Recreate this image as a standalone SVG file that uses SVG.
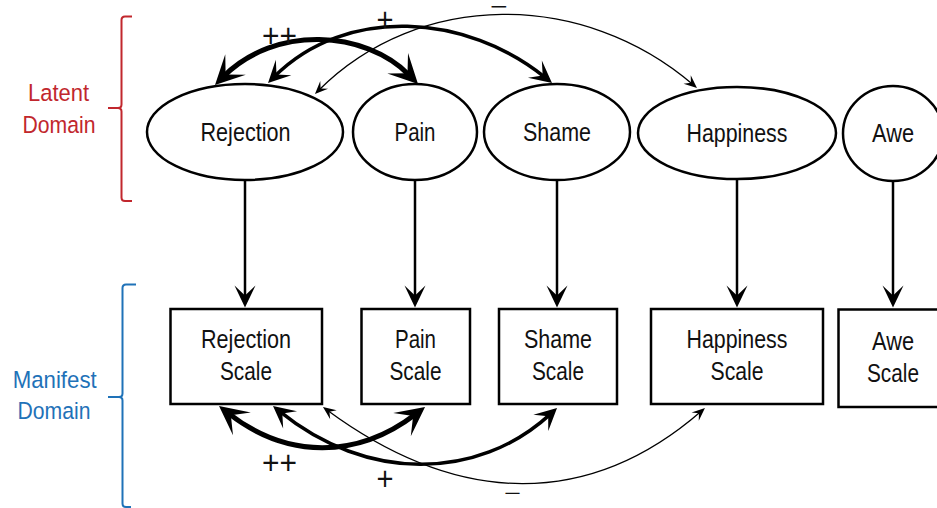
<svg xmlns="http://www.w3.org/2000/svg" width="937" height="508" viewBox="0 0 937 508">
<style>
.node{fill:#fff;stroke:#000;stroke-width:2.5}
.lbl{font-family:"Liberation Sans",Arial,sans-serif;font-size:25px;fill:#111;text-anchor:middle}
.dom{font-family:"Liberation Sans",Arial,sans-serif;font-size:24.5px;text-anchor:middle}
.sgn{font-family:"Liberation Sans",Arial,sans-serif;font-size:34px;fill:#111;text-anchor:middle}
.c{fill:none;stroke:#000}
.v{stroke-width:2.5;marker-end:url(#mv)}
.thick{stroke-width:5;marker-start:url(#mb);marker-end:url(#mb)}
.med{stroke-width:3.5;marker-start:url(#mm);marker-end:url(#mm)}
.thin{stroke-width:1.3;marker-start:url(#ms);marker-end:url(#ms)}
.br{fill:none;stroke-width:2}
</style>
<defs>
<marker id="mv" markerUnits="userSpaceOnUse" orient="auto" refX="-10" refY="0" overflow="visible"><path d="M0,0 L-22,-10.5 L-12,0 L-22,10.5 Z" fill="#000"/></marker>
<marker id="mb" markerUnits="userSpaceOnUse" orient="auto-start-reverse" refX="-12" refY="0" overflow="visible"><path d="M0,0 L-29,-14.5 L-15,0 L-29,14.5 Z" fill="#000"/></marker>
<marker id="mm" markerUnits="userSpaceOnUse" orient="auto-start-reverse" refX="-9" refY="0" overflow="visible"><path d="M0,0 L-22,-11 L-12,0 L-22,11 Z" fill="#000"/></marker>
<marker id="ms" markerUnits="userSpaceOnUse" orient="auto-start-reverse" refX="-5" refY="0" overflow="visible"><path d="M0,0 L-13,-5.5 L-8,0 L-13,5.5 Z" fill="#000"/></marker>
</defs>

<g id="domains">
<path class="br" stroke="#c1272d" d="M132,16.5 H125 Q121.5,16.5 121.5,20 V104.5 Q121.5,108 118,108 H108 M118,108 Q121.5,108 121.5,111.5 V197.5 Q121.5,201 125,201 H132"/>
<text class="dom" fill="#c1272d" x="58.5" y="100.7" textLength="61" lengthAdjust="spacingAndGlyphs">Latent</text>
<text class="dom" fill="#c1272d" x="59" y="132.7" textLength="73" lengthAdjust="spacingAndGlyphs">Domain</text>
<path class="br" stroke="#1f72b8" d="M136,284.5 H126 Q122.5,284.5 122.5,288 V393.5 Q122.5,397 119,397 H108 M119,397 Q122.5,397 122.5,400.5 V503.5 Q122.5,507 126,507 H131"/>
<text class="dom" fill="#1f72b8" x="54.7" y="387.7" textLength="84" lengthAdjust="spacingAndGlyphs">Manifest</text>
<text class="dom" fill="#1f72b8" x="54" y="419.3" textLength="73" lengthAdjust="spacingAndGlyphs">Domain</text>
</g>

<g id="rejection"><ellipse class="node" cx="245" cy="132" rx="98" ry="48"/><text class="lbl" x="245.5" y="141.3" textLength="90" lengthAdjust="spacingAndGlyphs">Rejection</text></g>
<g id="pain"><ellipse class="node" cx="415" cy="132" rx="62" ry="48"/><text class="lbl" x="415" y="141.3" textLength="41" lengthAdjust="spacingAndGlyphs">Pain</text></g>
<g id="shame"><ellipse class="node" cx="557" cy="132" rx="73" ry="48"/><text class="lbl" x="557" y="141.3" textLength="68" lengthAdjust="spacingAndGlyphs">Shame</text></g>
<g id="happiness"><ellipse class="node" cx="737" cy="133" rx="99" ry="46"/><text class="lbl" x="737" y="141.7" textLength="101" lengthAdjust="spacingAndGlyphs">Happiness</text></g>
<g id="awe"><ellipse class="node" cx="893" cy="133.5" rx="50" ry="47.5"/><text class="lbl" x="893" y="141.7" textLength="42" lengthAdjust="spacingAndGlyphs">Awe</text></g>

<g id="rejection-scale"><rect class="node" x="170.5" y="309" width="151.5" height="95"/><text class="lbl" x="246" y="348.3" textLength="90" lengthAdjust="spacingAndGlyphs">Rejection</text><text class="lbl" x="246" y="379.5" textLength="52" lengthAdjust="spacingAndGlyphs">Scale</text></g>
<g id="pain-scale"><rect class="node" x="361.5" y="309" width="108.5" height="95"/><text class="lbl" x="415.5" y="348.3" textLength="41" lengthAdjust="spacingAndGlyphs">Pain</text><text class="lbl" x="415.5" y="379.5" textLength="52" lengthAdjust="spacingAndGlyphs">Scale</text></g>
<g id="shame-scale"><rect class="node" x="499" y="309" width="118" height="95"/><text class="lbl" x="558" y="348.3" textLength="68" lengthAdjust="spacingAndGlyphs">Shame</text><text class="lbl" x="558" y="379.5" textLength="52" lengthAdjust="spacingAndGlyphs">Scale</text></g>
<g id="happiness-scale"><rect class="node" x="651" y="309" width="172" height="95"/><text class="lbl" x="737" y="348" textLength="101" lengthAdjust="spacingAndGlyphs">Happiness</text><text class="lbl" x="737" y="379.5" textLength="53" lengthAdjust="spacingAndGlyphs">Scale</text></g>
<g id="awe-scale"><rect class="node" x="838.5" y="309.5" width="110" height="97.5"/><text class="lbl" x="893" y="349.5" textLength="42" lengthAdjust="spacingAndGlyphs">Awe</text><text class="lbl" x="893" y="381.7" textLength="52" lengthAdjust="spacingAndGlyphs">Scale</text></g>

<g id="connectors">
<path class="c v" d="M245,180 V297.5"/>
<path class="c v" d="M415,180 V297.5"/>
<path class="c v" d="M557,180 V297.5"/>
<path class="c v" d="M737,179 V297.5"/>
<path class="c v" d="M893,181 V297.5"/>

<path class="c thin" d="M318.5,90.5 C419,-10 583,-10 693.2,84.7"/>
<path class="c med" d="M274.4,76.6 C346,5 467,14 545,77.3"/>
<path class="c thick" d="M223.5,76.5 C275,25 365,30 409.6,75.4"/>

<path class="c thin" d="M327,410 C460,508 590,508 701.2,411.3"/>
<path class="c med" d="M280,411.7 C366,481.5 477,481.5 550.4,414.1"/>
<path class="c thick" d="M228.5,413.4 C287,459 357,459 415.5,414.3"/>

<text class="sgn" x="279.5" y="46.5" textLength="35" lengthAdjust="spacingAndGlyphs">++</text>
<text class="sgn" x="385" y="30.5" textLength="17" lengthAdjust="spacingAndGlyphs">+</text>
<text class="sgn" x="498.5" y="11.2" style="font-size:12.5px;font-weight:bold" textLength="17" lengthAdjust="spacingAndGlyphs">−</text>
<text class="sgn" x="279.5" y="474" textLength="35" lengthAdjust="spacingAndGlyphs">++</text>
<text class="sgn" x="385" y="490" textLength="17" lengthAdjust="spacingAndGlyphs">+</text>
<text class="sgn" x="512.5" y="499.8" style="font-size:20px" textLength="17" lengthAdjust="spacingAndGlyphs">−</text>
</g>
</svg>
